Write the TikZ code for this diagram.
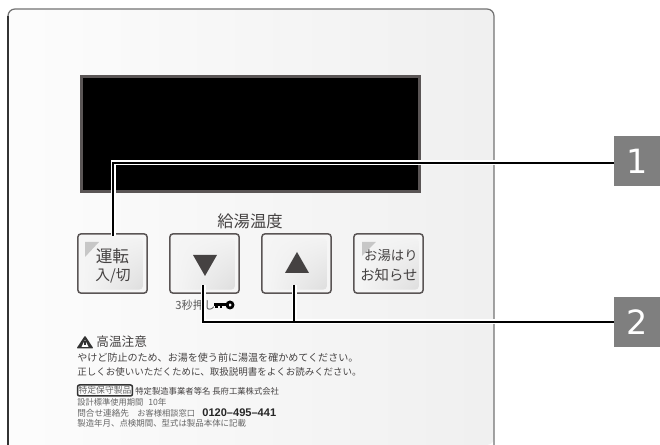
\documentclass[tikz,border=0pt]{standalone}
\usepackage{fontspec}
\usetikzlibrary{shadings}
\setmainfont{Noto Sans CJK JP}
\newfontfamily\digitfont{DejaVu Sans}
\newfontfamily\phonefont{Liberation Sans}
\definecolor{bevel}{HTML}{5A5555}
\definecolor{inkgrey}{HTML}{454242}
\definecolor{numgrey}{HTML}{7F7F7F}
\tikzset{
  panelbutton/.style={draw=bevel, line width=0.03cm, fill=white!96!black, rounded corners=0.07cm, minimum width=1.39cm, minimum height=1.19cm, inner sep=0, outer sep=0},
  buttonface/.style={rounded corners=0.08cm, minimum width=1.2cm, minimum height=1.03cm, inner sep=0, outer sep=0, upper left=white!96!black, upper right=white!95!black, lower left=white!96!black, lower right=white!87!black},
  numbox/.style={fill=numgrey, text=white, minimum width=0.92cm, minimum height=1cm, inner sep=0, outer sep=0, font=\digitfont\fontsize{19}{19}\selectfont},
  leader/.style={draw=black, line width=0.045cm, preaction={draw=white, line width=0.1cm}},
  caption/.style={text=inkgrey, inner sep=0, anchor=west},
  btnlabel/.style={text=inkgrey, inner sep=0},
}
\begin{document}
\begin{tikzpicture}[x=0.02cm, y=-0.02cm]
  \useasboundingbox (0,0) rectangle (660,445);
  % panel
  \shade[left color=white!99!black, right color=white!94!black, rounded corners=0.14cm] (8,445) -- (8,9) -- (494,9) -- (494,445) [sharp corners] -- cycle;
  \draw[draw=black!55, line width=0.025cm, rounded corners=0.14cm] (8,445) -- (8,9) -- (494,9) -- (494,445);
  \draw[draw=black!80, line width=0.025cm] (8,445) -- (8,16);
  % display
  \node[draw=bevel, fill=black, line width=0.06cm, minimum width=6.76cm, minimum height=2.3cm, inner sep=0, outer sep=0] (screen) at (250.5,134) {};
  % buttons
  \node[panelbutton] (powerbtn) at (112.5,263.5) {};
  \node[panelbutton] (downbtn) at (204.5,263.5) {};
  \node[panelbutton] (upbtn) at (296.5,263.5) {};
  \node[panelbutton] (bathbtn) at (388.5,263.5) {};
  \node[buttonface] (powerface) at (113,264) {};
  \node[buttonface] (downface) at (205,264) {};
  \node[buttonface] (upface) at (297,264) {};
  \node[buttonface] (bathface) at (389,264) {};
  \fill[white!78!black] (85,242) -- (99,242) -- (85,257) -- cycle;
  \fill[white!78!black] (362,242) -- (376,242) -- (362,256) -- cycle;
  \fill[inkgrey] (193,255) -- (217,255) -- (205,276) -- cycle;
  \fill[inkgrey] (285,273) -- (309,273) -- (297,252) -- cycle;
  % button texts
  \node[caption, font=\fontsize{9.3}{9.3}\selectfont] (tempcap) at (217,221) {給湯温度};
  \node[btnlabel, font=\fontsize{9.5}{9.5}\selectfont] (powertop) at (112.5,256) {運転};
  \node[btnlabel, font=\fontsize{8.4}{8.4}\selectfont] (powerbot) at (113,276) {入/切};
  \node[btnlabel, font=\fontsize{7.6}{7.6}\selectfont, anchor=east] (bathtop) at (418,255) {お湯はり};
  \node[btnlabel, font=\fontsize{8.2}{8.2}\selectfont, anchor=east] (bathbot) at (418,275) {お知らせ};
  % key mark
  \node[caption, text=black!65, font=\fontsize{6.4}{6.4}\selectfont] (holdcap) at (175,305) {3秒押し};
  \fill[black] (214,303.5) rectangle (229,306.5);
  \fill[black] (215,306) rectangle (217.5,308.5);
  \fill[black] (219.5,306) rectangle (222,308.5);
  \fill[black, even odd rule] (230,305) circle (4.5) (230,305) circle (1.8);
  % warning
  \fill[black!80, rounded corners=0.02cm] (85,335.5) -- (93.5,348.5) -- (76.5,348.5) -- cycle;
  \fill[white] (85,340) -- (88.5,347) -- (81.5,347) -- cycle;
  \fill[black!80] (84.3,341.5) rectangle (85.7,345);
  \node[caption, font=\fontsize{7.2}{7.2}\selectfont] (warnhead) at (96,342) {高温注意};
  \node[caption, font=\fontsize{5.72}{5.72}\selectfont] (warnone) at (77,358) {やけど防止のため、お湯を使う前に湯温を確かめてください。};
  \node[caption, font=\fontsize{5.4}{5.4}\selectfont] (warntwo) at (77,372) {正しくお使いいただくために、取扱説明書をよくお読みください。};
  % maker block
  \node[draw=black!80, line width=0.03cm, rounded corners=0.04cm, text=black!60, inner sep=0, outer sep=0, minimum width=1.1cm, minimum height=0.22cm, font=\fontsize{5}{5}\selectfont] (safetag) at (105,390.5) {特定保守製品};
  \node[caption, font=\fontsize{4.75}{4.75}\selectfont] (maker) at (135,391) {特定製造事業者等名 長府工業株式会社};
  \node[caption, text=black!60, font=\fontsize{4.7}{4.7}\selectfont] (lifespan) at (77,402) {設計標準使用期間};
  \node[caption, text=black!60, font=\fontsize{4.9}{4.9}\selectfont] (lifeyears) at (148,402) {10年};
  \node[caption, text=black!60, font=\fontsize{4.9}{4.9}\selectfont] (contact) at (77,413) {問合せ連絡先};
  \node[caption, text=black!60, font=\fontsize{4.7}{4.7}\selectfont] (desk) at (137,413) {お客様相談窓口};
  \node[caption, text=black!85, font=\phonefont\bfseries\fontsize{6.3}{6.3}\selectfont] (phone) at (202,413) {0120–495–441};
  \node[caption, text=black!60, font=\fontsize{4.8}{4.8}\selectfont] (dateline) at (77,423) {製造年月、点検期間、型式は製品本体に記載};
  % number tags and leaders
  \node[numbox] (numone) at (637,161) {1};
  \node[numbox] (numtwo) at (637,322) {2};
  \coordinate (tapone) at (numone.west |- 0,163);
  \coordinate (powerend) at (113,236);
  \coordinate (downend) at (203,285);
  \coordinate (upend) at (294,285);
  \draw[leader] (tapone) -| (powerend);
  \draw[leader] (numtwo.west) -| (downend) (upend) -- (upend |- numtwo.west);
\end{tikzpicture}
\end{document}
